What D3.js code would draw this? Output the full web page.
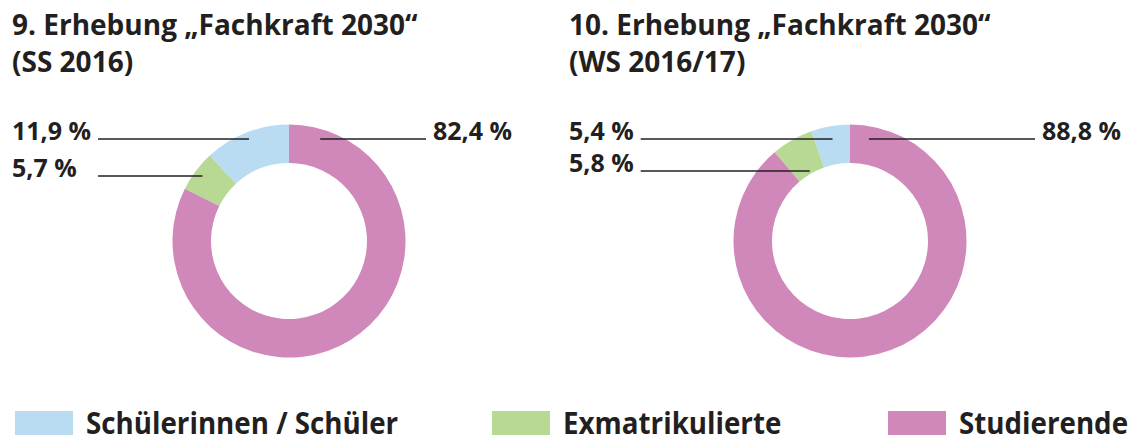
<!DOCTYPE html>
<html>
<head>
<meta charset="utf-8">
<script src="https://cdn.jsdelivr.net/npm/d3@7"></script>
<style>
	body { margin: 0; background: #fff; }
	text { font-family: 'Open Sans', 'Noto Sans', sans-serif; font-weight: 700; fill: #231f20; }
</style>
</head>
<body>
<div class="canvas"></div>
<script>
// data
const categories = ['Schülerinnen / Schüler', 'Exmatrikulierte', 'Studierende'];
const colors = ['#b9dcf3', '#b8d993', '#d088bb'];
const titles = [
	['9. Erhebung „Fachkraft 2030“', '(SS 2016)'],
	['10. Erhebung „Fachkraft 2030“', '(WS 2016/17)']
];
const valuesSS2016 = [11.9, 5.7, 82.4];
const valuesWS2016 = [5.4, 5.8, 88.8];
const series = [valuesSS2016, valuesWS2016];

const svg = d3.select('.canvas')
	.append('svg')
	.attr('width', 1135)
	.attr('height', 435);

// layout of the two panels
const panels = [
	{ left: 12, cx: 289, rightText: 433, rows: [139, 176] },
	{ left: 569, cx: 850, rightText: 1042, rows: [139, 171] }
];
const cy = 241;
const outerR = 116.5;
const innerR = 78;

const fmt = v => d3.format('.1f')(v).replace('.', ',') + ' %';

// pie drawn counter-clockwise from the top, so the first category ends at 12 o'clock
const pie = d3.pie()
	.sort(null)
	.startAngle(2 * Math.PI)
	.endAngle(0);

const arc = d3.arc()
	.innerRadius(innerR)
	.outerRadius(outerR);

series.forEach((values, p) => {
	const panel = panels[p];
	const g = svg.append('g');

	// titles
	g.selectAll('text.title')
		.data(titles[p])
		.enter()
		.append('text')
		.attr('class', 'title')
		.attr('x', panel.left)
		.attr('y', (d, i) => 35 + i * 37)
		.attr('font-size', 28)
		.text(d => d);

	const slices = pie(values);

	const donut = g.append('g')
		.attr('transform', `translate(${panel.cx},${cy})`);

	donut.selectAll('path')
		.data(slices)
		.enter()
		.append('path')
		.attr('d', arc)
		.attr('fill', (d, i) => colors[i]);

	// left labels (first two categories)
	const leftLabels = g.selectAll('text.left')
		.data(slices.slice(0, 2))
		.enter()
		.append('text')
		.attr('class', 'left')
		.attr('x', panel.left)
		.attr('y', (d, i) => panel.rows[i] + 1)
		.attr('font-size', 25)
		.text(d => fmt(d.data));

	let maxW = 0;
	leftLabels.each(function () { maxW = Math.max(maxW, this.getComputedTextLength()); });

	g.selectAll('line.left')
		.data(slices.slice(0, 2))
		.enter()
		.append('line')
		.attr('x1', panel.left + maxW + 7)
		.attr('x2', (d, i) => {
			const mid = (d.startAngle + d.endAngle) / 2;
			const dy = panel.rows[i] - cy;
			return panel.cx + (-dy) * Math.tan(mid);
		})
		.attr('y1', (d, i) => panel.rows[i])
		.attr('y2', (d, i) => panel.rows[i])
		.attr('stroke', '#231f20')
		.attr('stroke-width', 1.6);

	// right label for the large slice
	const big = slices[2];
	g.append('text')
		.attr('x', panel.rightText)
		.attr('y', panel.rows[0] + 1)
		.attr('font-size', 25)
		.text(fmt(big.data));

	const endX = panel.cx + (cy - panel.rows[0]) * Math.tan(((p == 0 ? 17 : 10.5) * Math.PI) / 180);
	g.append('line')
		.attr('x1', endX)
		.attr('x2', panel.rightText - 7)
		.attr('y1', panel.rows[0])
		.attr('y2', panel.rows[0])
		.attr('stroke', '#231f20')
		.attr('stroke-width', 1.6);
});

// legend
const legendX = [15, 492, 888];
const legend = svg.selectAll('g.legend')
	.data(categories)
	.enter()
	.append('g')
	.attr('class', 'legend')
	.attr('transform', (d, i) => `translate(${legendX[i]},411)`);

legend.append('rect')
	.attr('width', 58)
	.attr('height', 26)
	.attr('fill', (d, i) => colors[i]);

// slightly narrowed text, like the condensed face of the original
legend.append('g')
	.attr('transform', 'translate(71,22.5) scale(0.925,1)')
	.append('text')
	.attr('font-size', 30)
	.text(d => d);
</script>
</body>
</html>
